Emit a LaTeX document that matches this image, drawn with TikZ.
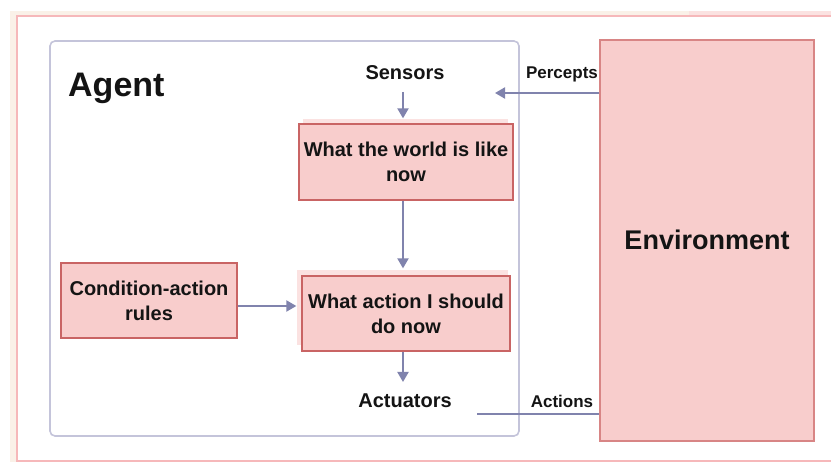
\documentclass[tikz,border=0pt]{standalone}
\usepackage{fontspec}
\setmainfont{Liberation Sans}
\usetikzlibrary{arrows.meta}
\definecolor{boxfill}{HTML}{F8CDCC}
\definecolor{boxline}{HTML}{C96464}
\definecolor{envline}{HTML}{D88585}
\definecolor{halo}{HTML}{FBE2E1}
\definecolor{agentline}{HTML}{C4C4DA}
\definecolor{flow}{HTML}{8083AD}
\definecolor{frameline}{HTML}{F6B8BA}
\definecolor{framebg}{HTML}{FAF1E8}
\definecolor{ink}{HTML}{141414}
\tikzset{
  pbox/.style={draw=boxline, fill=boxfill, line width=1.3pt, align=center,
    text=ink, font=\fontsize{20}{25}\selectfont\bfseries, inner sep=0pt},
  plain/.style={text=ink, inner sep=0pt, align=center},
  lbl/.style={plain, font=\fontsize{20}{25}\selectfont\bfseries},
  elbl/.style={plain, font=\fontsize{17}{20}\selectfont\bfseries},
  arr/.style={draw=flow, line width=2pt, -{Triangle[length=10pt, width=11pt]}},
  link/.style={draw=flow, line width=2pt},
}
\begin{document}
\begin{tikzpicture}[x=1pt, y=-1pt]
\useasboundingbox (0,0) rectangle (831,462);
% page frame
\fill[framebg] (10,11) rectangle (831,462);
\filldraw[fill=white, draw=frameline, line width=1.2pt] (17,16) rectangle (845,461);
\fill[halo] (689,11) rectangle (831,15.4);

% agent boundary
\draw[agentline, line width=1.6pt, rounded corners=5pt] (50,41) rectangle (519,436);
\node[plain, anchor=base west, font=\fontsize{34}{40}\selectfont\bfseries] (agent) at (68,97) {Agent};

% environment
\node[draw=envline, fill=boxfill, line width=1.4pt, minimum width=214pt, minimum height=401pt,
      inner sep=0pt] (env) at (707,240.5) {};
\node[plain, font=\fontsize{27}{32}\selectfont\bfseries] (envtxt) at (707,240) {Environment};

% soft backdrops behind the inner boxes
\fill[halo] (303,119) rectangle (508,124);
\fill[halo] (297,270) rectangle (508,345);

% inner boxes
\node[pbox, minimum width=214pt, minimum height=76pt] (world) at (406,162) {What the world is like\\now};
\node[pbox, minimum width=208pt, minimum height=75pt] (action) at (406,313.5) {What action I should\\do now};
\node[pbox, minimum width=176pt, minimum height=75pt] (rules) at (149,300.5) {Condition-action\\rules};

% labels
\node[lbl] (sensors) at (405,73) {Sensors};
\node[lbl] (actuators) at (405,401) {Actuators};
\node[elbl] (percepts) at (562,74) {Percepts};
\node[elbl] (actions) at (562,401) {Actions};

% connectors
\coordinate (sin) at (403,92);
\coordinate (pin) at (495,93);
\coordinate (aout) at (477,414);
\draw[arr] (sin) -- ([yshift=5pt]world.north -| sin);
\draw[arr] (world.south -| sin) -- ([yshift=7pt]action.north -| sin);
\draw[arr] (action.south -| sin) -- (403,382);
\draw[arr] (rules.east |- 0,306) -- ([xshift=-5pt]action.west |- 0,306);
\draw[arr] (env.west |- pin) -- (pin);
\draw[link] (aout) -- (env.west |- aout);
\end{tikzpicture}
\end{document}
